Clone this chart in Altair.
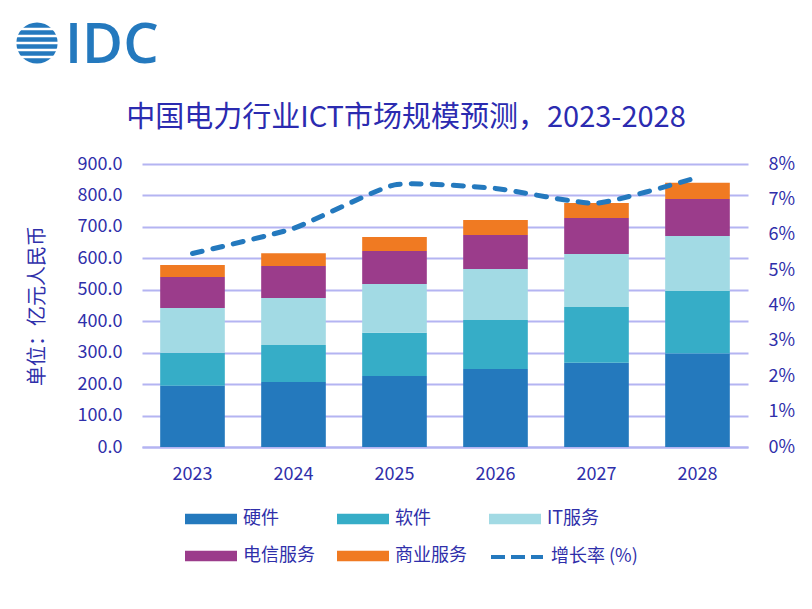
import altair as alt
import pandas as pd

# ---------------- data ----------------
years = ["2023", "2024", "2025", "2026", "2027", "2028"]
categories = ["硬件", "软件", "IT服务", "电信服务", "商业服务"]
colors = ["#2479BD", "#36ADC7", "#A2DAE4", "#9B3C8B", "#F07A22"]
hardware = [195, 207, 226, 248, 268, 297]
software = [105, 117, 137, 156, 177, 199]
it_services = [142, 150, 155, 162, 169, 175]
telecom = [99, 102, 105, 108, 114, 118]
commercial = [38, 40, 45, 48, 48, 51]
growth = [5.47, 6.18, 7.41, 7.31, 6.89, 7.62]
growth_label = "增长率 (%)"
title_text = "中国电力行业ICT市场规模预测，2023-2028"
y_title = "单位：亿元人民币"
logo_text = "IDC"

series = [hardware, software, it_services, telecom, commercial]
rows = []
for ci, (cat, vals) in enumerate(zip(categories, series)):
    for yr, v in zip(years, vals):
        rows.append({"year": yr, "cat": cat, "order": ci, "value": v})
bar_df = pd.DataFrame(rows)
line_df = pd.DataFrame({"year": years, "growth": growth, "s": [growth_label] * len(years)})

TXT = "#2F2FAA"
TITLE = "#2B2BB0"
FONT = "Noto Sans CJK SC"
GRID = "#B4B4F2"
LINE = "#2479BE"

x_enc = alt.X("year:N", sort=years,
              scale=alt.Scale(paddingInner=0.36, paddingOuter=0.18),
              axis=alt.Axis(title=None, labelAngle=0, ticks=False, domain=True,
                            domainColor=GRID, domainWidth=2, labelPadding=18,
                            labelFontSize=18, labelColor=TXT, labelFont=FONT,
                            grid=False))

bars = alt.Chart(bar_df).mark_bar().encode(
    x=x_enc,
    y=alt.Y("sum(value):Q",
            scale=alt.Scale(domain=[0, 900], nice=False),
            axis=alt.Axis(title=y_title, values=list(range(0, 901, 100)), format=".1f",
                          domain=False, ticks=False, grid=True, gridColor=GRID,
                          gridWidth=2, labelPadding=20, labelFontSize=18,
                          labelColor=TXT, labelFont=FONT, titleFont=FONT,
                          titleFontSize=20, titleColor=TXT, titleFontWeight="normal",
                          titlePadding=30)),
    fill=alt.Fill("cat:N", scale=alt.Scale(domain=categories, range=colors),
                  legend=alt.Legend(title=None, orient="none", legendX=43, legendY=329,
                                    direction="horizontal", columns=3,
                                    symbolType="M-1,-0.2L1,-0.2L1,0.2L-1,0.2Z",
                                    symbolSize=2704, symbolStrokeWidth=0,
                                    symbolOpacity=1, labelFontSize=18,
                                    labelColor=TXT, labelFont=FONT, labelOffset=6,
                                    columnPadding=22, rowPadding=2)),
    order=alt.Order("order:Q"),
)

line = alt.Chart(line_df).mark_line(strokeWidth=5, strokeDash=[10, 11], strokeCap="round",
                                    interpolate="cardinal", tension=0.5).encode(
    x=alt.X("year:N", sort=years),
    y=alt.Y("growth:Q", scale=alt.Scale(domain=[0, 8], nice=False),
            axis=alt.Axis(orient="right", title=None, values=list(range(0, 9)),
                          labelExpr="datum.value + '%'", domain=False, ticks=False,
                          grid=False, labelPadding=20, labelFontSize=18,
                          labelColor=TXT, labelFont=FONT, labelAlign="left")),
    stroke=alt.Stroke("s:N", scale=alt.Scale(domain=[growth_label], range=[LINE]),
                      legend=alt.Legend(title=None, orient="none", legendX=347, legendY=365,
                                        symbolType="stroke", symbolSize=2704,
                                        symbolStrokeWidth=4, symbolDash=[14, 6],
                                        labelFontSize=18, labelColor=TXT,
                                        labelFont=FONT, labelOffset=6)),
)

one = pd.DataFrame({"a": [0]})

title = alt.Chart(one).mark_text(fontSize=29, font=FONT, color=TITLE, align="center",
                                 baseline="middle").encode(
    x=alt.value(264), y=alt.value(-46), text=alt.value(title_text))

logo_txt = alt.Chart(one).mark_text(fontSize=56, font="Open Sans", fontWeight=600,
                                    color=LINE, align="left",
                                    baseline="middle").encode(
    x=alt.value(-77), y=alt.value(-118), text=alt.value(logo_text))

globe = alt.Chart(one).mark_point(shape="circle", filled=True, size=1700, color=LINE,
                                  opacity=1).encode(x=alt.value(-105), y=alt.value(-121))

stripes = [
    alt.Chart(one).mark_rule(color="white", strokeWidth=2.5).encode(
        x=alt.value(-128), x2=alt.value(-82), y=alt.value(-121 + d))
    for d in (-14, -7, 0, 7, 14)
]

chart = alt.layer(bars, line, title, logo_txt, globe, *stripes).resolve_scale(
    y="independent"
).properties(
    width=606, height=283,
    autosize=alt.AutoSizeParams(type="none"),
    padding={"left": 134, "top": 156, "right": 56, "bottom": 154},
).configure_view(stroke=None)

chart.save("out.html", embed_options={"renderer": "svg", "actions": False})
